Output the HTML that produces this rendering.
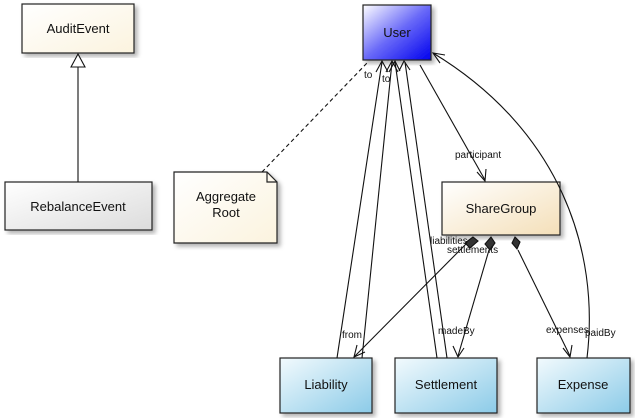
<!DOCTYPE html>
<html><head><meta charset="utf-8"><style>
html,body{margin:0;padding:0;background:#fff;}
svg{display:block;font-family:"Comic Sans MS","Liberation Sans",sans-serif;}
</style></head><body>
<svg width="635" height="418" viewBox="0 0 635 418" xmlns="http://www.w3.org/2000/svg">
<defs>
<linearGradient id="gw" x1="0" y1="0" x2="1" y2="1"><stop offset="0" stop-color="#fff"/><stop offset="1" stop-color="#fbf3de"/></linearGradient>
<linearGradient id="gg" x1="0" y1="0" x2="1" y2="1"><stop offset="0" stop-color="#fff"/><stop offset="1" stop-color="#dcdcdc"/></linearGradient>
<linearGradient id="gb" x1="0" y1="0" x2="1" y2="1"><stop offset="0" stop-color="#fff"/><stop offset="0.5" stop-color="#6a6af8"/><stop offset="1" stop-color="#0000ee"/></linearGradient>
<linearGradient id="gs" x1="0" y1="0" x2="1" y2="1"><stop offset="0" stop-color="#fff"/><stop offset="1" stop-color="#f4dfb8"/></linearGradient>
<linearGradient id="gl" x1="0" y1="0" x2="1" y2="1"><stop offset="0" stop-color="#f2fafd"/><stop offset="1" stop-color="#8ccbe8"/></linearGradient>
<filter id="sh"><feDropShadow dx="3" dy="3" stdDeviation="2" flood-color="#000" flood-opacity="0.3"/></filter>
</defs>
<g stroke="#222" stroke-width="1.2">
<rect x="22" y="4" width="112" height="49" fill="url(#gw)" filter="url(#sh)"/>
<rect x="5" y="182" width="147" height="48" fill="url(#gg)" filter="url(#sh)"/>
<path d="M174 172 H267 L277 182 V243 H174 Z" fill="url(#gw)" filter="url(#sh)"/>
<path d="M267 172 V182 H277" fill="none"/>
<rect x="363" y="5" width="68" height="55" fill="url(#gb)" filter="url(#sh)"/>
<rect x="442" y="182" width="118" height="53" fill="url(#gs)" filter="url(#sh)"/>
<rect x="280" y="358" width="92" height="55" fill="url(#gl)" filter="url(#sh)"/>
<rect x="395" y="358" width="102" height="55" fill="url(#gl)" filter="url(#sh)"/>
<rect x="537" y="358" width="93" height="55" fill="url(#gl)" filter="url(#sh)"/>
</g>
<g stroke="#111" stroke-width="1.1" fill="none">
<line x1="78" y1="66" x2="78" y2="182"/>
<path d="M71 67 L78 54 L85 67 Z" fill="#fff"/>
<line x1="262" y1="172" x2="368" y2="62" stroke-dasharray="4,3"/>
<line x1="337" y1="358" x2="382" y2="62"/>
<line x1="362" y1="358" x2="392" y2="62"/>
<line x1="437" y1="358" x2="395" y2="62"/>
<line x1="447" y1="358" x2="405" y2="62"/>
<path d="M376 72 L382 61 L388 72 M386 72 L392 61 L398 72 M389 72 L395 61 L400 71 M399 71 L404 61 L410 70"/>
<line x1="420" y1="65" x2="485" y2="180"/>
<path d="M477 172 L485 181 L486 169"/>
<path d="M587 358 C600 250 560 130 433 53"/>
<path d="M445 55 L433 53 L440 63"/>
<line x1="467" y1="243" x2="355" y2="356"/>
<path d="M357 345 L354 357 L365 352"/>
<line x1="489" y1="250" x2="458" y2="356"/>
<path d="M453 346 L458 357 L464 348"/>
<line x1="518" y1="250" x2="570" y2="356"/>
<path d="M563 348 L570 357 L572 345"/>
<path d="M473 237 L478 241 L470 248 L465 243 Z M491 237 L495 243 L490 250 L485 244 Z M515 237 L520 242 L517 249 L512 243 Z" fill="#333"/>
</g>
<g font-size="13" fill="#111" text-anchor="middle">
<text x="78" y="33">AuditEvent</text>
<text x="78" y="211">RebalanceEvent</text>
<text x="226" y="201">Aggregate</text>
<text x="226" y="217">Root</text>
<text x="397" y="37">User</text>
<text x="501" y="213">ShareGroup</text>
<text x="326" y="389">Liability</text>
<text x="446" y="389">Settlement</text>
<text x="583" y="389">Expense</text>
</g>
<g font-size="10" fill="#111">
<text x="364" y="78">to</text><text x="382" y="82">to</text>
<text x="455" y="158">participant</text>
<text x="430" y="244">liabilities</text>
<text x="447" y="253">settlements</text>
<text x="342" y="338">from</text>
<text x="438" y="334">madeBy</text>
<text x="546" y="333">expenses</text>
<text x="585" y="336">paidBy</text>
</g>
</svg>
</body></html>
